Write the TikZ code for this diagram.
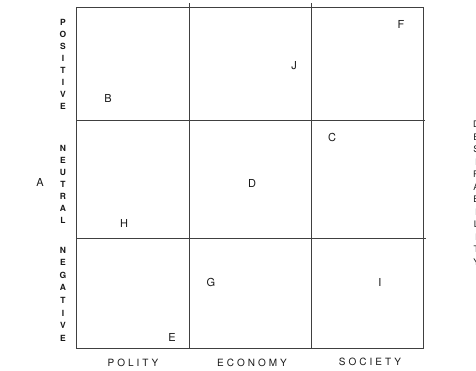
\documentclass[tikz,border=0pt]{standalone}
\usepackage{fontspec}
\setmainfont{TeX Gyre Heros}
\newfontfamily\spacedfont[LetterSpace=30]{TeX Gyre Heros}
\begin{document}
\begin{tikzpicture}[x=1pt,y=-1pt,
  gridline/.style={draw=black!75,line width=0.7pt},
  cell/.style={inner sep=0pt,text=black!90,font=\fontsize{11}{13}\selectfont},
  sidelabel/.style={inner sep=0pt,align=center,text=black!90,font=\bfseries\fontsize{8.5}{12}\selectfont},
  axislabel/.style={inner sep=0pt,text=black!90,font=\spacedfont\fontsize{10}{12}\selectfont}]
\useasboundingbox (0,0) rectangle (476,370);
% grid
\draw[gridline,line width=0.9pt] (76,7) rectangle (423,348);
\draw[gridline] (189,3) -- (189,348);
\draw[gridline] (311,3) -- (311,348);
\draw[gridline] (76,120) -- (425,120);
\draw[gridline] (76,238) -- (426,238);
% entries
\node[cell] (B) at (108,98) {B};
\node[cell] (J) at (294,66) {J};
\node[cell] (F) at (401,24) {F};
\node[cell] (C) at (332,137) {C};
\node[cell] (D) at (252,183) {D};
\node[cell] (H) at (124,223) {H};
\node[cell] (G) at (211,282) {G};
\node[cell] (I) at (380,282) {I};
\node[cell] (E) at (172,337) {E};
\node[cell] (A) at (40,182) {A};
% rows
\node[sidelabel] (positive) at (63,64) {P\\O\\S\\I\\T\\I\\V\\E};
\node[sidelabel] (neutral) at (63,184) {N\\E\\U\\T\\R\\A\\L};
\node[sidelabel,font=\bfseries\fontsize{8.5}{12.6}\selectfont] (negative) at (63,294) {N\\E\\G\\A\\T\\I\\V\\E};
% columns
\node[axislabel] (polity) at (133,363) {POLITY};
\node[axislabel] (economy) at (252,363) {ECONOMY};
\node[axislabel] (society) at (370,362) {SOCIETY};
% right side, cut off by the page edge
\node[inner sep=0pt,align=center,anchor=west,text=black!90,font=\fontsize{9}{12.5}\selectfont] (desir) at (473,193) {D\\E\\S\\I\\R\\A\\B\\I\\L\\I\\T\\Y};
\end{tikzpicture}
\end{document}
